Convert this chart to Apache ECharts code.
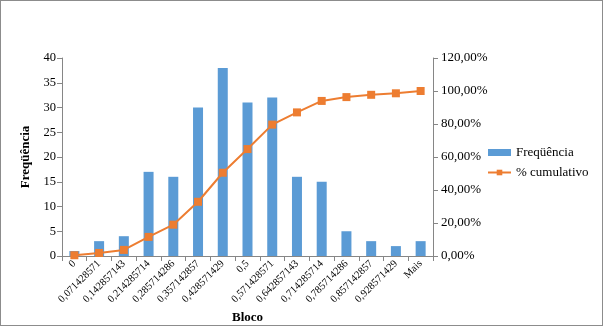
<!DOCTYPE html>
<html><head><meta charset="utf-8">
<script src="https://cdn.jsdelivr.net/npm/echarts@6/dist/echarts.min.js"></script>
<style>html,body{margin:0;padding:0;background:#fff}#wrap{position:relative;width:603px;height:326px}#c{position:absolute;left:0;top:0;width:603px;height:326px}#b{position:absolute;left:0;top:0;width:603px;height:326px;box-sizing:border-box;border:1px solid #8c8c8c;pointer-events:none}</style>
</head><body><div id="wrap"><div id="c"></div><div id="b"></div></div>
<script>
const categories = ['0','0,071428571','0,142857143','0,214285714','0,285714286','0,357142857','0,428571429','0,5','0,571428571','0,642857143','0,714285714','0,785714286','0,857142857','0,928571429','Mais'];
const frequencia = [1, 3, 4, 17, 16, 30, 38, 31, 32, 16, 15, 5, 3, 2, 3];
const cumulativo = [0.0046, 0.0185, 0.0370, 0.1157, 0.1898, 0.3287, 0.5046, 0.6481, 0.7963, 0.8704, 0.9398, 0.9630, 0.9769, 0.9861, 1.0];
const font = 'Liberation Serif';
const axisColor = '#868686';
const chart = echarts.init(document.getElementById('c'), null, {renderer:'canvas'});
chart.setOption({
  animation:false,
  textStyle:{fontFamily:font},
  grid:{left:62, right:170, top:58, bottom:70, containLabel:false, outerBoundsMode:'none'},
  legend:{
    orient:'vertical', left:482, top:141, itemGap:7, itemWidth:23, itemHeight:7,
    textStyle:{fontFamily:font, fontSize:13, color:'#000'},
    data:[{name:'Freqüência', icon:'rect'}, {name:'% cumulativo'}]
  },
  xAxis:{
    type:'category', data:categories, name:'Bloco', nameLocation:'middle', nameGap:55, nameMoveOverlap:false,
    nameTextStyle:{fontFamily:font, fontSize:13, fontWeight:'bold', color:'#000'},
    axisLine:{lineStyle:{color:axisColor}},
    axisTick:{show:true, alignWithLabel:false, length:5, lineStyle:{color:axisColor}},
    axisLabel:{rotate:45, interval:0, fontFamily:font, fontSize:10.5, color:'#000', margin:6}
  },
  yAxis:[
    {type:'value', min:0, max:40, interval:5, name:'Freqüência', nameLocation:'middle', nameGap:30, nameMoveOverlap:false,
     nameTextStyle:{fontFamily:font, fontSize:13, fontWeight:'bold', color:'#000'},
     axisLine:{show:true, lineStyle:{color:axisColor}},
     axisTick:{show:true, length:5, lineStyle:{color:axisColor}},
     splitLine:{show:false},
     axisLabel:{fontFamily:font, fontSize:12.5, color:'#000', margin:6}},
    {type:'value', min:0, max:1.2, interval:0.2, position:'right',
     axisLine:{show:true, lineStyle:{color:axisColor}},
     axisTick:{show:true, length:5, lineStyle:{color:axisColor}},
     splitLine:{show:false},
     axisLabel:{fontFamily:font, fontSize:13, color:'#000', margin:8,
       formatter:v=>(v*100).toFixed(2).replace('.',',')+'%'}}
  ],
  series:[
    {name:'Freqüência', type:'bar', data:frequencia, barWidth:10, itemStyle:{color:'#5B9BD5'}},
    {name:'% cumulativo', type:'line', yAxisIndex:1, data:cumulativo, symbol:'rect', symbolSize:8,
     lineStyle:{color:'#ED7D31', width:2}, itemStyle:{color:'#ED7D31'}}
  ]
});
</script></body></html>
